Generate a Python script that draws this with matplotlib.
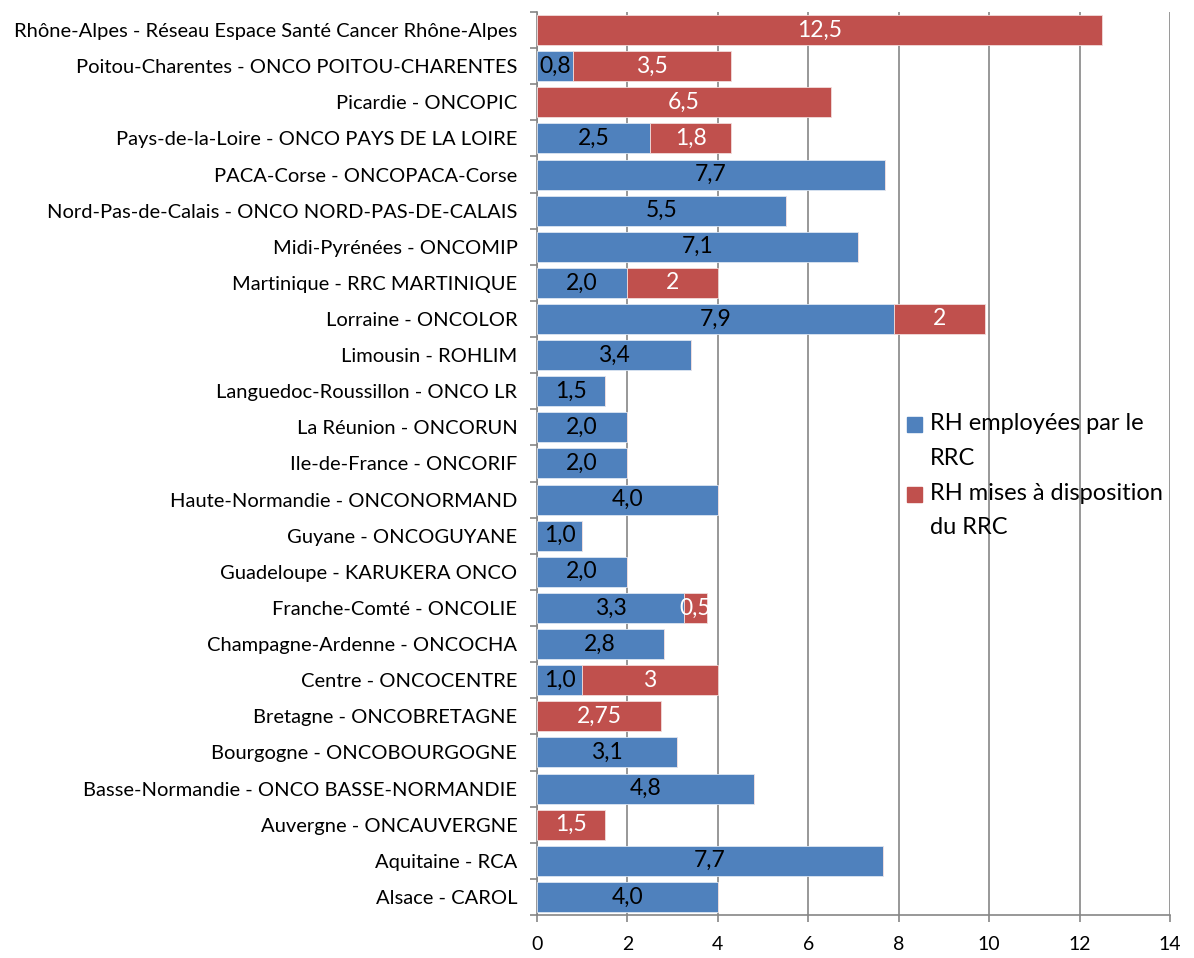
"""
RH des réseaux régionaux de cancérologie : barres horizontales empilées
"""
from decimal import Decimal, ROUND_HALF_UP
import numpy as np
import matplotlib
matplotlib.use('Agg')
import matplotlib.pyplot as plt
from matplotlib.patches import Rectangle
from matplotlib.ticker import MultipleLocator, FixedLocator

plt.rcParams['font.family'] = ['Lato', 'DejaVu Sans']

# de bas en haut
regions = [
    "Alsace - CAROL",
    "Aquitaine - RCA",
    "Auvergne - ONCAUVERGNE",
    "Basse-Normandie - ONCO BASSE-NORMANDIE",
    "Bourgogne - ONCOBOURGOGNE",
    "Bretagne - ONCOBRETAGNE",
    "Centre - ONCOCENTRE",
    "Champagne-Ardenne - ONCOCHA",
    "Franche-Comté - ONCOLIE",
    "Guadeloupe - KARUKERA ONCO",
    "Guyane - ONCOGUYANE",
    "Haute-Normandie - ONCONORMAND",
    "Ile-de-France - ONCORIF",
    "La Réunion - ONCORUN",
    "Languedoc-Roussillon - ONCO LR",
    "Limousin - ROHLIM",
    "Lorraine - ONCOLOR",
    "Martinique - RRC MARTINIQUE",
    "Midi-Pyrénées - ONCOMIP",
    "Nord-Pas-de-Calais - ONCO NORD-PAS-DE-CALAIS",
    "PACA-Corse - ONCOPACA-Corse",
    "Pays-de-la-Loire - ONCO PAYS DE LA LOIRE",
    "Picardie - ONCOPIC",
    "Poitou-Charentes - ONCO POITOU-CHARENTES",
    "Rhône-Alpes - Réseau Espace Santé Cancer Rhône-Alpes",
]
rh_employees = [4.0, 7.65, 0, 4.8, 3.1, 0, 1.0, 2.8, 3.25, 2.0, 1.0, 4.0, 2.0,
                2.0, 1.5, 3.4, 7.9, 2.0, 7.1, 5.5, 7.7, 2.5, 0, 0.8, 0]
rh_mises = [0, 0, 1.5, 0, 0, 2.75, 3, 0, 0.5, 0, 0, 0, 0,
            0, 0, 0, 2, 2, 0, 0, 0, 1.8, 6.5, 3.5, 12.5]

legend_labels = [["RH employées par le", "RRC"],
                 ["RH mises à disposition", "du RRC"]]

BLUE = "#4F81BD"
RED = "#C0504D"
GRID = "#868686"


def fmt_blue(v):
    # une décimale, arrondi "Excel" (demi vers le haut)
    d = Decimal(str(v)).quantize(Decimal("0.1"), rounding=ROUND_HALF_UP)
    return str(d).replace(".", ",")


def fmt_red(v):
    # format "standard" d'Excel : pas de zéros inutiles
    return f"{v:g}".replace(".", ",")


fig = plt.figure(figsize=(11.94, 9.58), dpi=100)
ax = fig.add_axes([0.4497, 0.0449, 0.9799 - 0.4497, 0.9875 - 0.0449])

y = np.arange(len(regions))
h = 0.83
ax.barh(y, rh_employees, height=h, color=BLUE, edgecolor="#dce6f2",
        linewidth=0.6, zorder=3)
ax.barh(y, rh_mises, left=rh_employees, height=h, color=RED,
        edgecolor="#f2dcdb", linewidth=0.6, zorder=3)

for i in range(len(regions)):
    e, m = rh_employees[i], rh_mises[i]
    if e > 0:
        ax.text(e / 2, i, fmt_blue(e), ha="center", va="center",
                fontsize=16.5, color="black", zorder=4)
    if m > 0:
        ax.text(e + m / 2, i, fmt_red(m), ha="center", va="center",
                fontsize=16.5, color="white", zorder=4)

ax.set_xlim(0, 14)
ax.set_ylim(-0.5, len(regions) - 0.5)
ax.xaxis.set_major_locator(MultipleLocator(2))
ax.grid(axis="x", color=GRID, linewidth=1.2, zorder=0)
ax.set_axisbelow(True)

ax.set_yticks(y)
ax.set_yticklabels(regions, fontsize=14.5)
ax.yaxis.set_minor_locator(FixedLocator(np.arange(-0.5, len(regions), 1)))
ax.tick_params(axis="y", which="major", length=0, pad=14)
ax.tick_params(axis="y", which="minor", length=5, color=GRID, width=1.2)
ax.tick_params(axis="x", which="major", length=5, color=GRID, width=1.2,
               labelsize=14, pad=10)

for s in ("top", "right"):
    ax.spines[s].set_visible(False)
for s in ("left", "bottom"):
    ax.spines[s].set_color(GRID)
    ax.spines[s].set_linewidth(1.2)

# légende façon Excel : carré aligné sur la première ligne, lignes espacées de 34 px
leg_x = 907 / 1194
for k, (lines, col) in enumerate(zip(legend_labels, [BLUE, RED])):
    y_line = 1 - (424 + k * 70) / 958
    fig.patches.append(Rectangle((leg_x, y_line - 7.5 / 958), 15 / 1194, 15 / 958,
                                 transform=fig.transFigure, color=col))
    for j, txt in enumerate(lines):
        fig.text(930 / 1194, y_line - j * 34 / 958, txt, fontsize=17,
                 va="center", ha="left")

fig.savefig("out.png", dpi=100)
